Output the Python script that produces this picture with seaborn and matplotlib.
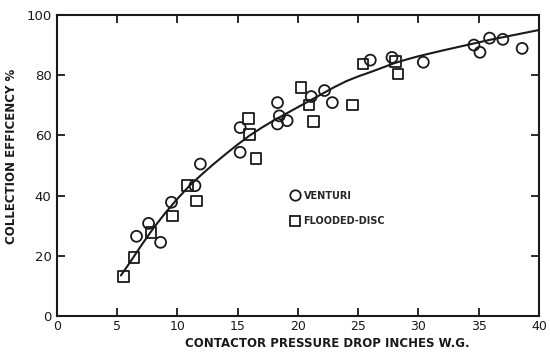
import matplotlib
matplotlib.use("Agg")
import matplotlib.pyplot as plt
import seaborn as sns
from matplotlib.lines import Line2D

# data
venturi_x = [6.6, 7.6, 8.6, 9.5, 11.45, 11.9, 15.2, 15.2, 18.3, 18.45, 18.3, 19.1,
             21.1, 22.2, 22.85, 26.0, 27.8, 30.4, 34.6, 35.1, 35.9, 37.0, 38.6]
venturi_y = [26.5, 30.8, 24.5, 37.8, 43.3, 50.5, 62.6, 54.4, 70.9, 66.5, 63.8, 64.9,
             72.9, 74.9, 70.9, 85.0, 85.9, 84.3, 90.0, 87.6, 92.3, 91.9, 88.9]

disc_x = [5.5, 6.4, 7.8, 9.57, 10.85, 11.6, 15.9, 15.96, 16.5, 20.25, 20.9, 21.3,
          24.5, 25.4, 28.1, 28.3]
disc_y = [13.1, 19.5, 27.7, 33.3, 43.3, 38.2, 65.7, 60.4, 52.4, 76.0, 70.1, 64.6,
          70.1, 83.7, 84.5, 80.4]

curve_x = [5.3, 6, 7, 8, 9, 10, 11, 12, 13, 14, 15, 16, 17, 18, 19, 20, 21, 22,
           23, 24, 25, 26, 27, 28, 29, 30, 32, 34, 36, 38, 40]
curve_y = [13.5, 17.5, 23.5, 29.2, 34.3, 39, 43.3, 47, 50.5, 53.8, 57, 60, 62.6, 65,
           67.2, 69.4, 71.6, 73.8, 76, 78, 79.6, 81, 82.5, 84, 85.2, 86.3, 88.2, 90,
           91.8, 93.4, 95]

sns.set_style("ticks")
plt.rcParams["font.family"] = ["DejaVu Sans"]
ink = "#1a1a1a"

fig = plt.figure(figsize=(5.5, 3.56), dpi=100)
ax = fig.add_axes([0.1036, 0.112, 0.8764, 0.846])

sns.lineplot(x=curve_x, y=curve_y, ax=ax, color=ink, lw=1.5)
sns.scatterplot(x=venturi_x, y=venturi_y, ax=ax, marker="o", s=62,
                fc="none", ec=ink, linewidth=1.3, zorder=3)
sns.scatterplot(x=disc_x, y=disc_y, ax=ax, marker="s", s=58,
                fc="none", ec=ink, linewidth=1.3, zorder=3)

ax.set_xlim(0, 40)
ax.set_ylim(0, 100)
ax.set_xticks(range(0, 41, 5))
ax.set_yticks(range(0, 101, 20))
ax.tick_params(direction="in", length=6, width=1.3, color=ink, top=True, right=True,
               labelsize=9.5, labelcolor=ink, pad=4)
ax.tick_params(axis="x", labelsize=9, pad=3)
for sp in ax.spines.values():
    sp.set_linewidth(1.5)
    sp.set_color(ink)

ax.set_xlabel("CONTACTOR PRESSURE DROP INCHES W.G.", fontsize=8.5, fontweight="bold",
              color=ink)
ax.xaxis.set_label_coords(0.56, -0.068)
ax.set_ylabel("COLLECTION EFFICENCY %", fontsize=8.5, fontweight="bold",
              color=ink)
ax.yaxis.set_label_coords(-0.08, 0.53)

handles = [Line2D([], [], ls="none", marker="o", ms=7.5, mfc="none", mec=ink, mew=1.3),
           Line2D([], [], ls="none", marker="s", ms=7, mfc="none", mec=ink, mew=1.3)]
ax.legend(handles, ["VENTURI", "FLOODED-DISC"], loc="upper left",
          bbox_to_anchor=(0.465, 0.445), frameon=False,
          prop={"weight": "bold", "size": 7}, handletextpad=0.4,
          labelspacing=1.55, handlelength=1.0)

fig.savefig("out.png", dpi=100)
